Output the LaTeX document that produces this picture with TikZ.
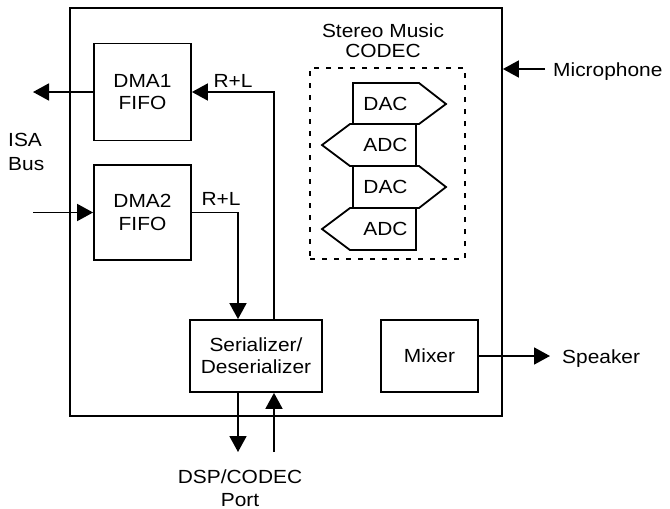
\documentclass[tikz,border=0pt]{standalone}
\usepackage{fontspec}
\setmainfont{Liberation Sans}[FakeStretch=1.1]
\usetikzlibrary{arrows.meta}
\begin{document}
\begin{tikzpicture}[x=1pt,y=-1pt,
  every node/.style={font=\fontsize{19}{22.3}\selectfont},
  lw/.style={line width=1.8pt},
  blk/.style={draw,lw,inner sep=0pt,align=center},
  conn/.style={lw,-{Triangle[length=16pt,width=17pt]}},
  lbl/.style={inner sep=0pt,align=center},
  conv/.style={draw,lw,line join=miter},
  dashbox/.style={draw,line width=1.3pt,dash pattern=on 5pt off 7pt,inner sep=0pt}]
\useasboundingbox (0,0) rectangle (670,509);
% main chip outline
\node[blk,minimum width=432pt,minimum height=408pt] (chip) at (286,212) {};
% blocks
\node[blk,minimum width=97pt,minimum height=97pt] (dma1) at (142.5,92) {DMA1\\FIFO};
\node[blk,minimum width=97pt,minimum height=95pt] (dma2) at (142.5,212.5) {DMA2\\FIFO};
\node[blk,minimum width=132pt,minimum height=72pt] (ser) at (256,356) {Serializer/\\Deserializer};
\node[blk,minimum width=97pt,minimum height=72pt] (mixer) at (429.5,356) {Mixer};
% codec group
\node[dashbox,minimum width=155pt,minimum height=191pt] (codec) at (387.5,163.5) {};
\node[lbl,font=\fontsize{19}{19.5}\selectfont] (codecl) at (383,40.8) {Stereo Music\\CODEC};
\draw[conv] (353,83) -- (419,83) -- (446,104) -- (419,124) -- (353,124) -- cycle;
\draw[conv] (416,124) -- (350,124) -- (322,145) -- (350,166) -- (416,166) -- cycle;
\draw[conv] (353,166) -- (419,166) -- (446,187) -- (419,208) -- (353,208) -- cycle;
\draw[conv] (416,208) -- (350,208) -- (322,229) -- (350,250) -- (416,250) -- cycle;
\node[lbl] (dac1) at (385.5,103.5) {DAC};
\node[lbl] (adc1) at (385.5,145) {ADC};
\node[lbl] (dac2) at (385.5,187) {DAC};
\node[lbl] (adc2) at (385.5,229) {ADC};
% outside labels
\node[lbl,align=left,anchor=west,font=\fontsize{19}{24}\selectfont] (isa) at (8,151.7) {ISA\\Bus};
\node[lbl,anchor=base west] (mic) at (553,76) {Microphone};
\node[lbl,anchor=base west] (spk) at (562,363) {Speaker};
\node[lbl,font=\fontsize{19}{23.3}\selectfont] (dsp) at (240,488) {DSP/CODEC\\Port};
\node[lbl] (rl1) at (233,80.7) {R+L};
\node[lbl] (rl2) at (221,198.7) {R+L};
% helper coordinates
\coordinate (upx) at (274,0);
\coordinate (dnx) at (238,0);
\coordinate (isaout) at (33,92);
\coordinate (isain) at (33,212.5);
\coordinate (dspout) at (238,452);
\coordinate (dspin) at (274,452);
\coordinate (micin) at (545,69);
\coordinate (spkend) at (550,356);
% connectors
\draw[conn] (dma1.west) -- (isaout);
\draw[conn] (isain) -- (dma2.west);
\draw[conn] (ser.north -| upx) |- (dma1.east);
\draw[conn] (dma2.east) -| (ser.north -| dnx);
\draw[conn] (ser.south -| dnx) -- (dspout);
\draw[conn] (dspin) -- (ser.south -| upx);
\draw[conn] (micin) -- (chip.east |- micin);
\draw[conn] (mixer.east) -- (spkend);
\end{tikzpicture}
\end{document}
